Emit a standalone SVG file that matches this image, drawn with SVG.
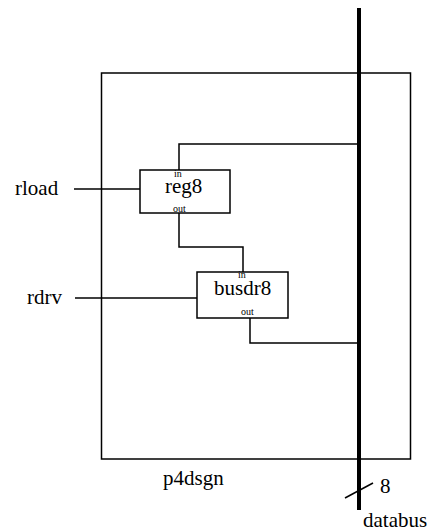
<svg xmlns="http://www.w3.org/2000/svg" width="428" height="531" viewBox="0 0 428 531">
<style>
.box{fill:none;stroke:#000;stroke-width:1.5}
.w{fill:none;stroke:#000;stroke-width:1.5}
.bus{fill:none;stroke:#000;stroke-width:4}
text{font-family:"Liberation Serif","Times New Roman",serif;fill:#000}
.l{font-size:21px}
.s{font-size:10px}
</style>
<rect width="428" height="531" fill="#fff"/>
<g id="p4dsgn">
<rect class="box" x="101.5" y="73" width="309" height="386"/>
<text class="l" x="163" y="485">p4dsgn</text>
</g>
<g id="connectors">
<line class="w" x1="74" y1="189" x2="140" y2="189"/>
<line class="w" x1="75" y1="298" x2="197" y2="298"/>
<polyline class="w" points="179,170 179,144 359,144"/>
<polyline class="w" points="179,213 179,247 243,247 243,272"/>
<polyline class="w" points="250,318 250,343 359,343"/>
<line class="bus" x1="359" y1="8" x2="359" y2="510"/>
<line class="w" x1="345" y1="498" x2="373" y2="483"/>
</g>
<g id="reg8">
<rect class="box" x="140" y="170" width="90" height="43"/>
<text class="s" x="174" y="177">in</text>
<text class="l" x="165" y="193">reg8</text>
<text class="s" x="173" y="212">out</text>
</g>
<g id="busdr8">
<rect class="box" x="197" y="272" width="91" height="46"/>
<text class="s" x="238" y="278">in</text>
<text class="l" x="214" y="295">busdr8</text>
<text class="s" x="241" y="315">out</text>
</g>
<g id="rload"><text class="l" x="15" y="195">rload</text></g>
<g id="rdrv"><text class="l" x="27" y="304">rdrv</text></g>
<g id="databus">
<text class="l" x="380" y="493">8</text>
<text class="l" x="363" y="527">databus</text>
</g>
</svg>
